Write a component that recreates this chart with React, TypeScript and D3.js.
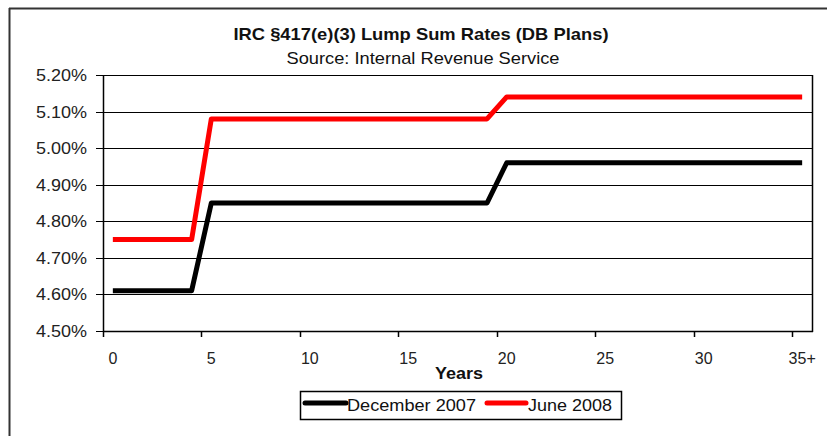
import React from "react";
import * as d3 from "d3";

const years: number[] = [0,1,2,3,4,5,6,7,8,9,10,11,12,13,14,15,16,17,18,19,20,21,22,23,24,25,26,27,28,29,30,31,32,33,34,35];
const dec2007: number[] = [4.61,4.61,4.61,4.61,4.61,4.85,4.85,4.85,4.85,4.85,4.85,4.85,4.85,4.85,4.85,4.85,4.85,4.85,4.85,4.85,4.96,4.96,4.96,4.96,4.96,4.96,4.96,4.96,4.96,4.96,4.96,4.96,4.96,4.96,4.96,4.96];
const jun2008: number[] = [4.75,4.75,4.75,4.75,4.75,5.08,5.08,5.08,5.08,5.08,5.08,5.08,5.08,5.08,5.08,5.08,5.08,5.08,5.08,5.08,5.14,5.14,5.14,5.14,5.14,5.14,5.14,5.14,5.14,5.14,5.14,5.14,5.14,5.14,5.14,5.14];
const xTickYears: number[] = [0,5,10,15,20,25,30,35];
const xTickLabels: string[] = ["0","5","10","15","20","25","30","35+"];
const yTicks: number[] = [4.5,4.6,4.7,4.8,4.9,5.0,5.1,5.2];
const seriesNames: string[] = ["December 2007","June 2008"];
const seriesColors: string[] = ["#000000","#ff0000"];

const FONT = "'Liberation Sans', Arial, sans-serif";

export default function App() {
  const W = 827, H = 436;
  const left = 103, right = 812, top = 75, bottom = 331;
  const x = d3.scaleBand<number>().domain(years).range([left, right]);
  const cx = (i: number) => (x(i) as number) + x.bandwidth() / 2;
  const y = d3.scaleLinear().domain([4.5, 5.2]).range([bottom, top]);
  const line = d3.line<number>().x((_, i) => cx(years[i])).y(v => y(v));
  const series = [dec2007, jun2008];

  return (
    <svg width={W} height={H} style={{ position: "absolute", left: 0, top: 0, background: "#fff" }} fontFamily={FONT}>
      <rect x={0} y={0} width={W} height={H} fill="#fff" />
      {/* outer frame */}
      <line x1={9} y1={8.5} x2={W} y2={8.5} stroke="#333" strokeWidth={2} />
      <line x1={9.5} y1={8} x2={9.5} y2={H} stroke="#333" strokeWidth={2} />
      {/* title */}
      <text x={421} y={40} textAnchor="middle" fontSize={17} fontWeight="bold" fill="#111" textLength={375} lengthAdjust="spacingAndGlyphs">IRC §417(e)(3) Lump Sum Rates (DB Plans)</text>
      <text x={423} y={64} textAnchor="middle" fontSize={17} fill="#111" textLength={273} lengthAdjust="spacingAndGlyphs">Source: Internal Revenue Service</text>
      {/* gridlines */}
      {yTicks.map(t => (
        <g key={t}>
          <line x1={left} x2={right} y1={Math.round(y(t)) + 0.5} y2={Math.round(y(t)) + 0.5} stroke="#000" strokeWidth={1} />
          <line x1={left - 7} x2={left} y1={Math.round(y(t)) + 0.5} y2={Math.round(y(t)) + 0.5} stroke="#000" strokeWidth={1} />
          <text x={87} y={y(t) + 6} textAnchor="end" fontSize={16} fill="#222" textLength={51} lengthAdjust="spacingAndGlyphs">{t.toFixed(2)}%</text>
        </g>
      ))}
      {/* plot border */}
      <line x1={left + 0.5} x2={left + 0.5} y1={top} y2={bottom + 1} stroke="#000" strokeWidth={1.5} />
      <line x1={right + 0.5} x2={right + 0.5} y1={top} y2={bottom + 1} stroke="#000" strokeWidth={1.5} />
      <line x1={left} x2={right + 1} y1={bottom + 0.5} y2={bottom + 0.5} stroke="#000" strokeWidth={1.5} />
      {/* x ticks */}
      {xTickYears.map((yr, k) => (
        <g key={yr}>
          <line x1={Math.round(x(yr) as number) + 0.5} x2={Math.round(x(yr) as number) + 0.5} y1={bottom} y2={bottom + 6} stroke="#000" strokeWidth={1.5} />
          <text x={cx(yr)} y={364} textAnchor="middle" fontSize={16} fill="#222">{xTickLabels[k]}</text>
        </g>
      ))}
      <text x={459} y={379} textAnchor="middle" fontSize={16} fontWeight="bold" fill="#111" textLength={48} lengthAdjust="spacingAndGlyphs">Years</text>
      {/* lines */}
      {series.map((s, k) => (
        <path key={k} d={line(s) as string} fill="none" stroke={seriesColors[k]} strokeWidth={5} strokeLinejoin="round" strokeLinecap="butt" />
      ))}
      {/* legend */}
      <rect x={300.5} y={391.5} width={321} height={28} fill="#fff" stroke="#000" strokeWidth={1.5} />
      <line x1={305} x2={346} y1={403} y2={403} stroke={seriesColors[0]} strokeWidth={5} strokeLinecap="round" />
      <text x={347} y={411} fontSize={17} fill="#111" textLength={129} lengthAdjust="spacingAndGlyphs">{seriesNames[0]}</text>
      <line x1={487} x2={526} y1={403} y2={403} stroke={seriesColors[1]} strokeWidth={5} strokeLinecap="round" />
      <text x={528} y={411} fontSize={17} fill="#111" textLength={84} lengthAdjust="spacingAndGlyphs">{seriesNames[1]}</text>
    </svg>
  );
}
